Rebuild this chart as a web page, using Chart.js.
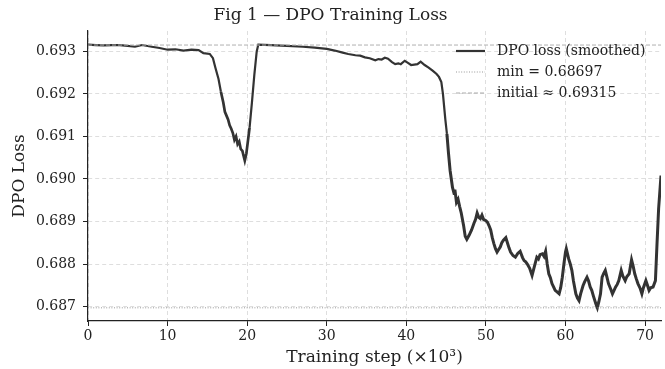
<!DOCTYPE html>
<html>
<head>
<meta charset="utf-8">
<script src="https://cdn.jsdelivr.net/npm/chart.js@4/dist/chart.umd.min.js"></script>
<style>
  html, body { margin: 0; padding: 0; background: #fff; }
  #wrap { width: 665px; height: 369px; }
</style>
</head>
<body>
<div id="wrap"><canvas id="loss-chart" width="665" height="369"></canvas></div>
<script>
// Training steps (thousands) and smoothed DPO loss
const steps = [
  0.0, 1.0, 2.0, 3.0, 4.0, 5.0, 5.9, 6.8, 8.0, 9.0, 10.0, 11.0, 12.0, 13.0, 13.9, 14.5, 15.3, 15.7, 16.0, 16.4,
  16.7, 17.0, 17.2, 17.4, 17.6, 17.8, 18.0, 18.2, 18.4, 18.6, 18.8, 19.0, 19.2, 19.4, 19.5, 19.7, 19.9, 20.3, 20.6, 20.9,
  21.2, 21.4, 23.0, 25.0, 27.0, 28.5, 30.0, 31.0, 32.0, 32.7, 33.6, 34.2, 34.8, 35.4, 36.1, 36.5, 36.9, 37.3, 37.7, 38.2,
  38.6, 39.0, 39.3, 39.8, 40.2, 40.6, 41.0, 41.4, 41.8, 42.3, 42.8, 43.3, 43.8, 44.1, 44.4, 44.6, 44.9, 45.1, 45.3, 45.5,
  45.8, 46.0, 46.1, 46.3, 46.5, 46.7, 46.9, 47.2, 47.4, 47.6, 47.9, 48.2, 48.5, 48.7, 48.9, 49.1, 49.3, 49.5, 49.7, 50.0,
  50.2, 50.4, 50.6, 50.8, 51.0, 51.2, 51.4, 51.6, 51.8, 52.0, 52.2, 52.5, 52.7, 52.9, 53.1, 53.4, 53.7, 54.0, 54.3, 54.6,
  54.8, 55.0, 55.2, 55.5, 55.8, 56.1, 56.4, 56.6, 56.8, 57.1, 57.3, 57.5, 57.7, 57.9, 58.1, 58.3, 58.5, 58.7, 58.9, 59.2,
  59.4, 59.6, 59.8, 60.0, 60.1, 60.4, 60.6, 60.8, 61.0, 61.3, 61.5, 61.7, 61.9, 62.2, 62.4, 62.7, 62.9, 63.1, 63.3, 63.5,
  63.8, 64.0, 64.2, 64.4, 64.6, 64.8, 65.0, 65.2, 65.4, 65.7, 65.9, 66.1, 66.3, 66.5, 66.7, 67.0, 67.2, 67.5, 67.7, 68.0,
  68.3, 68.5, 68.7, 68.9, 69.1, 69.4, 69.6, 69.8, 70.1, 70.3, 70.5, 70.7, 71.0, 71.3, 71.5, 71.7, 72.0
];
const lossSmoothed = [
  0.69316, 0.69315, 0.69314, 0.69315, 0.69315, 0.69313, 0.69311, 0.69315, 0.69311, 0.69308, 0.69304, 0.69305, 0.69302, 0.69304, 0.69303, 0.69296, 0.69294, 0.69284, 0.69262, 0.69235,
  0.69205, 0.69180, 0.69158, 0.69149, 0.69140, 0.69126, 0.69118, 0.69108, 0.69092, 0.69100, 0.69082, 0.69088, 0.69070, 0.69066, 0.69058, 0.69043, 0.69060, 0.69120, 0.69180, 0.69245,
  0.69300, 0.69316, 0.69315, 0.69313, 0.69311, 0.69309, 0.69306, 0.69302, 0.69297, 0.69294, 0.69291, 0.69290, 0.69286, 0.69284, 0.69279, 0.69282, 0.69281, 0.69285, 0.69283, 0.69275,
  0.69270, 0.69272, 0.69270, 0.69278, 0.69273, 0.69268, 0.69269, 0.69270, 0.69276, 0.69268, 0.69262, 0.69255, 0.69247, 0.69240, 0.69228, 0.69200, 0.69140, 0.69106, 0.69060, 0.69020,
  0.68980, 0.68966, 0.68975, 0.68945, 0.68952, 0.68935, 0.68920, 0.68890, 0.68865, 0.68858, 0.68868, 0.68880, 0.68896, 0.68905, 0.68920, 0.68910, 0.68907, 0.68915, 0.68905, 0.68902,
  0.68898, 0.68890, 0.68880, 0.68862, 0.68848, 0.68836, 0.68828, 0.68834, 0.68840, 0.68850, 0.68856, 0.68862, 0.68850, 0.68838, 0.68828, 0.68820, 0.68816, 0.68825, 0.68830, 0.68815,
  0.68808, 0.68805, 0.68800, 0.68790, 0.68773, 0.68795, 0.68816, 0.68812, 0.68822, 0.68824, 0.68818, 0.68830, 0.68800, 0.68777, 0.68768, 0.68754, 0.68746, 0.68738, 0.68735, 0.68730,
  0.68745, 0.68769, 0.68800, 0.68828, 0.68836, 0.68812, 0.68800, 0.68785, 0.68760, 0.68730, 0.68720, 0.68714, 0.68730, 0.68749, 0.68758, 0.68769, 0.68760, 0.68746, 0.68738, 0.68725,
  0.68707, 0.68697, 0.68712, 0.68730, 0.68769, 0.68778, 0.68785, 0.68770, 0.68754, 0.68740, 0.68730, 0.68738, 0.68746, 0.68752, 0.68761, 0.68785, 0.68772, 0.68761, 0.68770, 0.68777,
  0.68810, 0.68795, 0.68777, 0.68765, 0.68754, 0.68742, 0.68730, 0.68745, 0.68761, 0.68750, 0.68738, 0.68744, 0.68746, 0.68761, 0.68848, 0.68930, 0.69008
];
const minLoss = 0.68697;
const initialLoss = 0.69315;

const xTicks = [0, 10, 20, 30, 40, 50, 60, 70];
const yTicks = [0.687, 0.688, 0.689, 0.690, 0.691, 0.692, 0.693];

const serif = "'DejaVu Serif', serif";
const textColor = '#222';

const hline = (v) => [{ x: 0, y: v }, { x: 72, y: v }];

// legend drawn inside the plot, top right, no frame
const legendItems = [
  { label: 'DPO loss (smoothed)', color: '#333', width: 2.2, dash: [] },
  { label: 'min = 0.68697', color: '#999', width: 1, dash: [1, 1.6] },
  { label: 'initial \u2248 0.69315', color: '#aaa', width: 1, dash: [4, 2] }
];

const insideLegend = {
  id: 'insideLegend',
  afterDraw(chart) {
    const ctx = chart.ctx;
    const area = chart.chartArea;
    ctx.save();
    ctx.font = '14px ' + serif;
    ctx.textBaseline = 'middle';
    ctx.fillStyle = textColor;
    legendItems.forEach((item, i) => {
      const y = area.top + 20 + i * 21;
      const x0 = area.left + 368;
      ctx.strokeStyle = item.color;
      ctx.lineWidth = item.width;
      ctx.setLineDash(item.dash);
      ctx.beginPath();
      ctx.moveTo(x0, y);
      ctx.lineTo(x0 + 29, y);
      ctx.stroke();
      ctx.setLineDash([]);
      ctx.fillText(item.label, x0 + 41, y);
    });
    ctx.restore();
  }
};

// noisier stretches of the curve read thicker
const segWidth = (c) => {
  const x = c.p0.parsed.x;
  if (x >= 45) return 3.0;
  if (x >= 16.5 && x < 20) return 2.7;
  return 2.2;
};

const axisGrid = {
  color: '#dedede',
  tickLength: 5,
  tickColor: '#222',
  tickBorderDash: []
};
const axisBorder = { color: '#222', width: 1.2, dash: [4, 3] };

const ctx = document.getElementById('loss-chart').getContext('2d');
const lossChart = new Chart(ctx, {
  type: 'line',
  data: {
    datasets: [
      {
        label: 'initial',
        data: hline(initialLoss),
        borderColor: '#b0b0b0',
        borderWidth: 1,
        borderDash: [4, 2],
        pointRadius: 0
      },
      {
        label: 'min',
        data: hline(minLoss),
        borderColor: '#999',
        borderWidth: 1,
        borderDash: [1, 1.6],
        pointRadius: 0
      },
      {
        label: 'DPO loss (smoothed)',
        data: steps.map((s, i) => ({ x: s, y: lossSmoothed[i] })),
        borderColor: '#333',
        borderWidth: 2.2,
        segment: { borderWidth: segWidth },
        pointRadius: 0,
        tension: 0
      }
    ]
  },
  options: {
    responsive: false,
    animation: false,
    layout: { padding: { left: 0, right: 4, top: 0, bottom: 0 } },
    plugins: {
      legend: { display: false },
      tooltip: { enabled: false },
      title: {
        display: true,
        text: 'Fig 1 \u2014 DPO Training Loss',
        color: textColor,
        font: { family: serif, size: 17, weight: 'normal' },
        padding: { top: 5, bottom: 5.6 }
      }
    },
    scales: {
      x: {
        type: 'linear',
        min: 0,
        max: 72,
        afterBuildTicks: (scale) => { scale.ticks = xTicks.map(v => ({ value: v })); },
        afterFit: (scale) => { scale.height = 48; },
        ticks: {
          color: textColor,
          font: { family: serif, size: 14 },
          padding: 2,
          maxRotation: 0
        },
        grid: axisGrid,
        border: axisBorder,
        title: {
          display: true,
          text: 'Training step (\u00d710\u00b3)',
          color: textColor,
          font: { family: serif, size: 17 },
          padding: { top: 0, bottom: 1 }
        }
      },
      y: {
        min: 0.68666,
        max: 0.69348,
        afterBuildTicks: (scale) => { scale.ticks = yTicks.map(v => ({ value: v })); },
        afterFit: (scale) => { scale.width = 88; },
        ticks: {
          color: textColor,
          font: { family: serif, size: 14 },
          padding: 7,
          callback: (v) => v.toFixed(3)
        },
        grid: axisGrid,
        border: axisBorder,
        title: {
          display: true,
          text: 'DPO Loss',
          color: textColor,
          font: { family: serif, size: 17 },
          padding: { top: 9, bottom: 0 }
        }
      }
    }
  },
  plugins: [insideLegend]
});
</script>
</body>
</html>
